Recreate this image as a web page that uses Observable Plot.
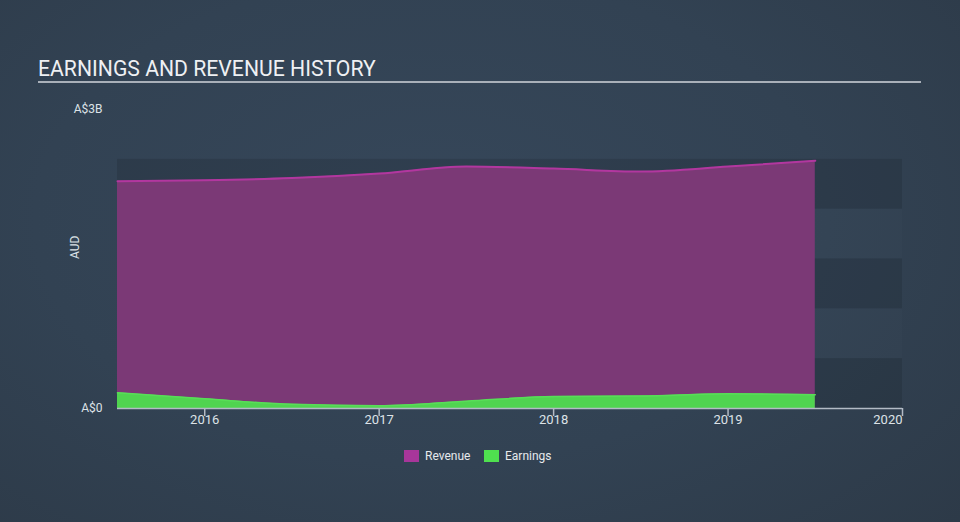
<!DOCTYPE html>
<html><head><meta charset="utf-8">
<script src="https://cdn.jsdelivr.net/npm/d3@7"></script>
<script src="https://cdn.jsdelivr.net/npm/@observablehq/plot@0.6"></script>
<style>
html,body{margin:0;padding:0;}
body{width:960px;height:522px;overflow:hidden;position:relative;
  background:radial-gradient(ellipse 75% 85% at 45% 42%, #36475a 0%, #324253 55%, #2d3a48 100%);
  font-family:Roboto,"Noto Sans",sans-serif;}
#title{position:absolute;left:38px;top:56px;font-size:21.2px;color:#eef0f3;white-space:nowrap;line-height:26px;}
#rule{position:absolute;left:38px;top:81px;width:883px;height:2px;background:#a9b0b9;}
#chart{position:absolute;left:0;top:0;}
.leg{position:absolute;top:449px;display:flex;align-items:center;font-size:12px;color:#e6e9ec;line-height:14px;}
.sw{width:15px;height:12px;margin-right:6px;}
</style></head>
<body>
<div id="title">EARNINGS AND REVENUE HISTORY</div>
<div id="rule"></div>
<div id="chart"></div>
<div class="leg" style="left:404px"><div class="sw" style="background:#a7369a"></div>Revenue</div>
<div class="leg" style="left:484px"><div class="sw" style="background:#4fe04f"></div>Earnings</div>
<script>
// Data (A$ billions), half-yearly
const periods  = [2015.5, 2016, 2016.5, 2017, 2017.5, 2018, 2018.5, 2019, 2019.5];
const revenue  = [2.280, 2.289, 2.312, 2.357, 2.427, 2.407, 2.377, 2.427, 2.487];
const earnings = [0.157, 0.097, 0.042, 0.027, 0.073, 0.120, 0.125, 0.147, 0.137];
const xTicks   = [2016, 2017, 2018, 2019, 2020];
const yTicks   = [0, 3];
const yTickLabels = ["A$0", "A$3B"];

const rows = periods.map((p, i) => ({period: p, revenue: revenue[i], earnings: earnings[i]}));
const bands = d3.range(0, 2.5, 0.5).map((b, i) => ({y1: b, y2: b + 0.5, dark: i % 2 === 0}));

const curve = "monotone-x";
const chart = Plot.plot({
  width: 960,
  height: 522,
  marginLeft: 117,
  marginRight: 58,
  marginTop: 109,
  marginBottom: 114,
  x: {domain: [2015.5, 2020], axis: null, label: null},
  y: {domain: [0, 3], axis: null, label: null},
  style: {background: "transparent", fontFamily: "Roboto, sans-serif", color: "#dfe3e8", overflow: "visible"},
  marks: [
    Plot.rect(bands, {x1: 2015.5, x2: 2020, y1: "y1", y2: "y2",
      fill: d => d.dark ? "#000000" : "#ffffff",
      fillOpacity: d => d.dark ? 0.11 : 0.012}),
    Plot.areaY(rows, {x: "period", y: "revenue", fill: "#7b3976", curve}),
    Plot.lineY(rows, {x: "period", y: "revenue", stroke: "#b2379f", strokeWidth: 2, curve}),
    Plot.areaY(rows, {x: "period", y: "earnings", fill: "#50d450", curve}),
    Plot.lineY(rows, {x: "period", y: "earnings", stroke: "#58de58", strokeWidth: 1.5, curve}),
    Plot.ruleY([0], {stroke: "#b3bbc5", strokeWidth: 1.5}),
    Plot.axisX({ticks: xTicks, tickSize: 8, tickFormat: () => "", label: null, stroke: "#b3bbc5", strokeWidth: 1.5}),
    Plot.text(xTicks.filter(d => d < 2020), {x: d => d, frameAnchor: "bottom", dy: 15, text: d => String(d), fontSize: 13, fill: "#dde2e7"}),
    Plot.text(xTicks.filter(d => d === 2020), {x: d => d, frameAnchor: "bottom", dy: 15, text: d => String(d), fontSize: 13, fill: "#dde2e7", textAnchor: "end"}),
    Plot.text(yTicks, {y: d => d, frameAnchor: "left", dx: -15, textAnchor: "end", text: (d, i) => yTickLabels[i], fontSize: 12, fill: "#dde2e7"}),
    Plot.text(["AUD"], {frameAnchor: "left", dx: -42, rotate: -90, fontSize: 12, fill: "#dde2e7"})
  ]
});
document.getElementById("chart").appendChild(chart);
</script>
</body></html>
